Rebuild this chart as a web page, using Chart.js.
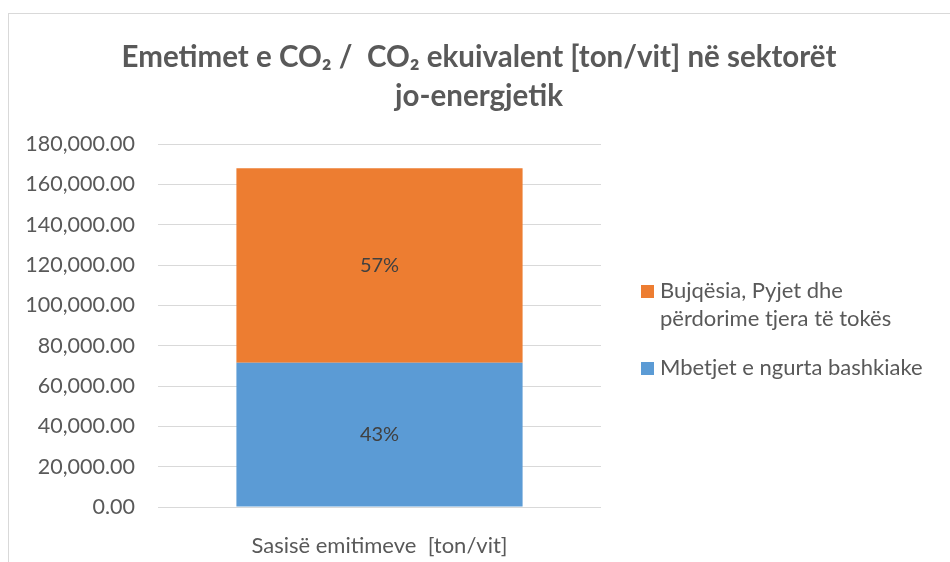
<!DOCTYPE html>
<html>
<head>
<meta charset="utf-8">
<script src="https://cdn.jsdelivr.net/npm/chart.js@4"></script>
<style>
  html, body { margin: 0; padding: 0; background: #fff; }
  #wrap { position: relative; width: 950px; height: 562px; overflow: hidden; }
  #frame { position: absolute; left: 8px; top: 13px; width: 1000px; height: 600px;
           border-left: 1px solid #d9d9d9; border-top: 1px solid #d9d9d9; }
  canvas { position: absolute; left: 0; top: 0; }
</style>
</head>
<body>
<div id="wrap">
  <div id="frame"></div>
  <canvas id="chart" width="950" height="562"></canvas>
</div>
<script>
  const FONT = "Lato, 'Open Sans', sans-serif";
  const TEXT_COLOR = "#595959";

  const categories = ["Sasisë emitimeve  [ton/vit]"];
  const wasteValues = [71500];
  const agricultureValues = [96500];
  const seriesNames = ["Mbetjet e ngurta bashkiake", "Bujqësia, Pyjet dhe përdorime tjera të tokës"];
  const titleLines = ["Emetimet e CO₂ /  CO₂ ekuivalent [ton/vit] në sektorët", "jo-energjetik"];
  const legendLines = [
    ["Bujqësia, Pyjet dhe", "përdorime tjera të tokës"],
    ["Mbetjet e ngurta bashkiake"]
  ];

  // title drawn by hand so the two lines sit where the reference has them
  const titlePlugin = {
    id: "titleText",
    afterDraw(chart) {
      const ctx = chart.ctx;
      ctx.save();
      ctx.fillStyle = TEXT_COLOR;
      ctx.font = "bold 29.5px " + FONT;
      ctx.textAlign = "center";
      ctx.textBaseline = "middle";
      ctx.fillText(titleLines[0], 479, 57);
      ctx.fillText(titleLines[1], 479, 96);
      ctx.restore();
    }
  };

  // percentage labels in the middle of each stacked segment
  const pctPlugin = {
    id: "pctLabels",
    afterDatasetsDraw(chart) {
      const ctx = chart.ctx;
      const total = wasteValues[0] + agricultureValues[0];
      ctx.save();
      ctx.fillStyle = "#404040";
      ctx.font = "20px " + FONT;
      ctx.textAlign = "center";
      ctx.textBaseline = "middle";
      chart.data.datasets.forEach((ds, i) => {
        const meta = chart.getDatasetMeta(i);
        meta.data.forEach((bar, j) => {
          const pct = Math.round((ds.data[j] / total) * 100) + "%";
          ctx.fillText(pct, bar.x, (bar.y + bar.base) / 2);
        });
      });
      ctx.restore();
    }
  };

  // legend on the right, top series first, with wrapped text
  const legendPlugin = {
    id: "sideLegend",
    afterDraw(chart) {
      const ctx = chart.ctx;
      const order = [1, 0];
      const rows = [[291, 319], [368]];
      ctx.save();
      ctx.font = "22px " + FONT;
      ctx.textBaseline = "middle";
      ctx.textAlign = "left";
      order.forEach((dsIndex, k) => {
        const ds = chart.data.datasets[dsIndex];
        const ys = rows[k];
        ctx.fillStyle = ds.backgroundColor;
        ctx.fillRect(641, ys[0] - 6, 13, 13);
        ctx.fillStyle = TEXT_COLOR;
        legendLines[k].forEach((line, n) => {
          ctx.fillText(line, 660, ys[n]);
        });
      });
      ctx.restore();
    }
  };

  new Chart(document.getElementById("chart"), {
    type: "bar",
    data: {
      labels: categories,
      datasets: [
        {
          label: seriesNames[0],
          data: wasteValues,
          backgroundColor: "#5B9BD5",
          barPercentage: 0.646,
          categoryPercentage: 1
        },
        {
          label: seriesNames[1],
          data: agricultureValues,
          backgroundColor: "#ED7D31",
          barPercentage: 0.646,
          categoryPercentage: 1
        }
      ]
    },
    options: {
      responsive: false,
      animation: false,
      layout: {
        padding: { top: 144, right: 349, bottom: 0, left: 0 }
      },
      plugins: {
        legend: { display: false },
        title: { display: false },
        tooltip: { enabled: false }
      },
      scales: {
        x: {
          stacked: true,
          grid: { display: false },
          border: { display: false },
          ticks: { color: TEXT_COLOR, font: { family: FONT, size: 22 }, padding: 18 },
          afterFit(scale) { scale.height = 55; }
        },
        y: {
          stacked: true,
          min: 0,
          max: 180000,
          grid: { color: "#d9d9d9", drawTicks: false },
          border: { display: false },
          ticks: {
            stepSize: 20000,
            color: TEXT_COLOR,
            font: { family: FONT, size: 21.5 },
            padding: 23,
            callback: (v) => v.toLocaleString("en-US", { minimumFractionDigits: 2, maximumFractionDigits: 2 })
          },
          afterFit(scale) { scale.width = 158; }
        }
      }
    },
    plugins: [titlePlugin, pctPlugin, legendPlugin]
  });
</script>
</body>
</html>
